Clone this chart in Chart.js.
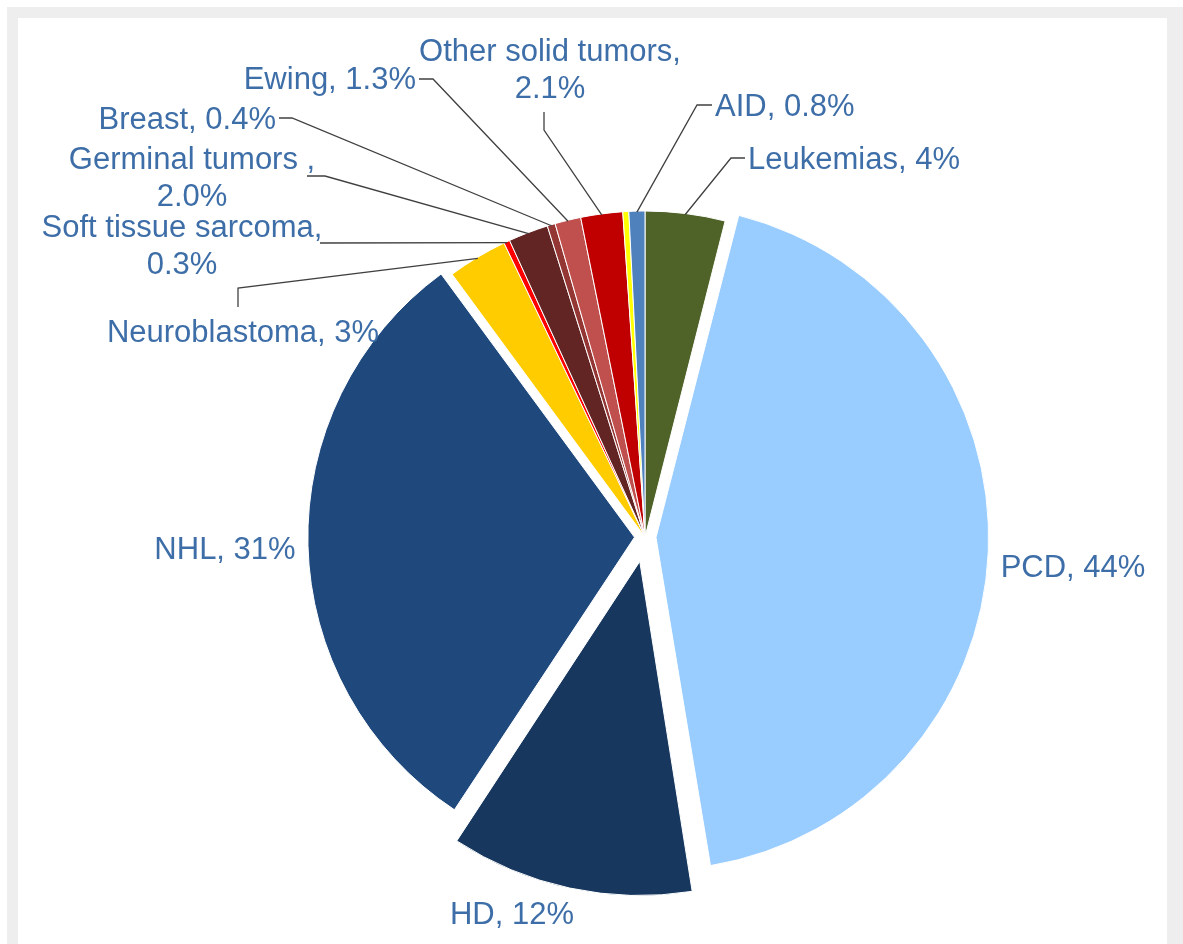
<!DOCTYPE html>
<html>
<head>
<meta charset="utf-8">
<script src="https://cdn.jsdelivr.net/npm/chart.js@4.4.0/dist/chart.umd.min.js"></script>
<style>
  html, body { margin: 0; padding: 0; background: #ffffff; width: 1183px; height: 944px; overflow: hidden; }
  #frame { position: absolute; left: 7px; top: 7px; width: 1190px; height: 960px; background: #eeeeee; }
  #panel { position: absolute; left: 18px; top: 18px; width: 1149px; height: 950px; background: #ffffff; }
  #wrap { position: absolute; left: 0; top: 0; width: 1183px; height: 944px; }
</style>
</head>
<body>
<div id="frame"></div>
<div id="panel"></div>
<div id="wrap"><canvas id="c" width="1183" height="944"></canvas></div>
<script>
// ---- data ----
const categories = ["Leukemias", "PCD", "HD", "NHL", "Neuroblastoma", "Soft tissue sarcoma",
  "Germinal tumors ", "Breast", "Ewing", "Other solid tumors", "", "AID"];
const shares = [4, 44, 12, 31, 3, 0.3, 2.0, 0.4, 1.3, 2.1, 0.3, 0.8];
const shareLabels = ["4%", "44%", "12%", "31%", "3%", "0.3%", "2.0%", "0.4%", "1.3%", "2.1%", "", "0.8%"];

// ---- styles ----
const sliceColors = ["#4f6228", "#99ccff", "#17375e", "#1f497d", "#ffcc00", "#ff0000",
  "#632523", "#943634", "#c0504d", "#c00000", "#ffff00", "#4f81bd"];
const sliceOffsets = [0, 44, 100, 42, 0, 0, 0, 0, 0, 0, 0, 0];

// label layout: text lines, anchor, alignment, optional leader elbow points
const labelLayout = [
  { lines: ["Leukemias, 4%"], x: 748, y: 160, align: "left", leader: [[745, 158], [731, 158]] },
  { lines: ["PCD, 44%"], x: 1073, y: 568, align: "center" },
  { lines: ["HD, 12%"], x: 512, y: 915, align: "center" },
  { lines: ["NHL, 31%"], x: 225, y: 550, align: "center" },
  { lines: ["Neuroblastoma, 3%"], x: 243, y: 333, align: "center", leader: [[238, 307], [238, 288]] },
  { lines: ["Soft tissue sarcoma,", "0.3%"], x: 182, y: 228, align: "center", leader: [[320, 243]] },
  { lines: ["Germinal tumors ,", "2.0%"], x: 192, y: 160, align: "center", leader: [[307, 176], [325, 176]] },
  { lines: ["Breast, 0.4%"], x: 276, y: 120, align: "right", leader: [[279, 118], [292, 118]] },
  { lines: ["Ewing, 1.3%"], x: 416, y: 80, align: "right", leader: [[419, 79], [433, 79]] },
  { lines: ["Other solid tumors,", "2.1%"], x: 550, y: 52, align: "center", leader: [[544, 112], [544, 130]] },
  null,
  { lines: ["AID, 0.8%"], x: 715, y: 107, align: "left", leader: [[712, 105], [697, 105]] }
];

const labelPlugin = {
  id: "excelLabels",
  afterDatasetsDraw(chart) {
    const ctx = chart.ctx;
    const meta = chart.getDatasetMeta(0);
    ctx.save();
    // leader lines
    ctx.strokeStyle = "#404040";
    ctx.lineWidth = 1.3;
    labelLayout.forEach((lab, i) => {
      if (!lab || !lab.leader) return;
      const arc = meta.data[i];
      const mid = (arc.startAngle + arc.endAngle) / 2;
      const r = arc.outerRadius - 1;
      const ex = arc.x + Math.cos(mid) * r;
      const ey = arc.y + Math.sin(mid) * r;
      ctx.beginPath();
      ctx.moveTo(lab.leader[0][0], lab.leader[0][1]);
      for (let k = 1; k < lab.leader.length; k++) ctx.lineTo(lab.leader[k][0], lab.leader[k][1]);
      ctx.lineTo(ex, ey);
      ctx.stroke();
    });
    // texts
    ctx.fillStyle = "#3e6ea8";
    ctx.font = "31px 'Liberation Sans', Arial, sans-serif";
    ctx.textBaseline = "middle";
    labelLayout.forEach((lab) => {
      if (!lab) return;
      ctx.textAlign = lab.align;
      lab.lines.forEach((t, j) => {
        ctx.fillText(t, lab.x, lab.y + j * 37);
      });
    });
    ctx.restore();
  }
};

new Chart(document.getElementById("c"), {
  type: "pie",
  data: {
    labels: categories.map((c, i) => c + (shareLabels[i] ? ", " + shareLabels[i] : "")),
    datasets: [{
      data: shares,
      backgroundColor: sliceColors,
      borderColor: "#ffffff",
      borderWidth: 1,
      offset: sliceOffsets,
      radius: 326
    }]
  },
  options: {
    responsive: false,
    animation: false,
    radius: 326,
    layout: { padding: { left: 107, top: 130, right: 0, bottom: 0 } },
    plugins: { legend: { display: false }, tooltip: { enabled: false } }
  },
  plugins: [labelPlugin]
});
</script>
</body>
</html>
